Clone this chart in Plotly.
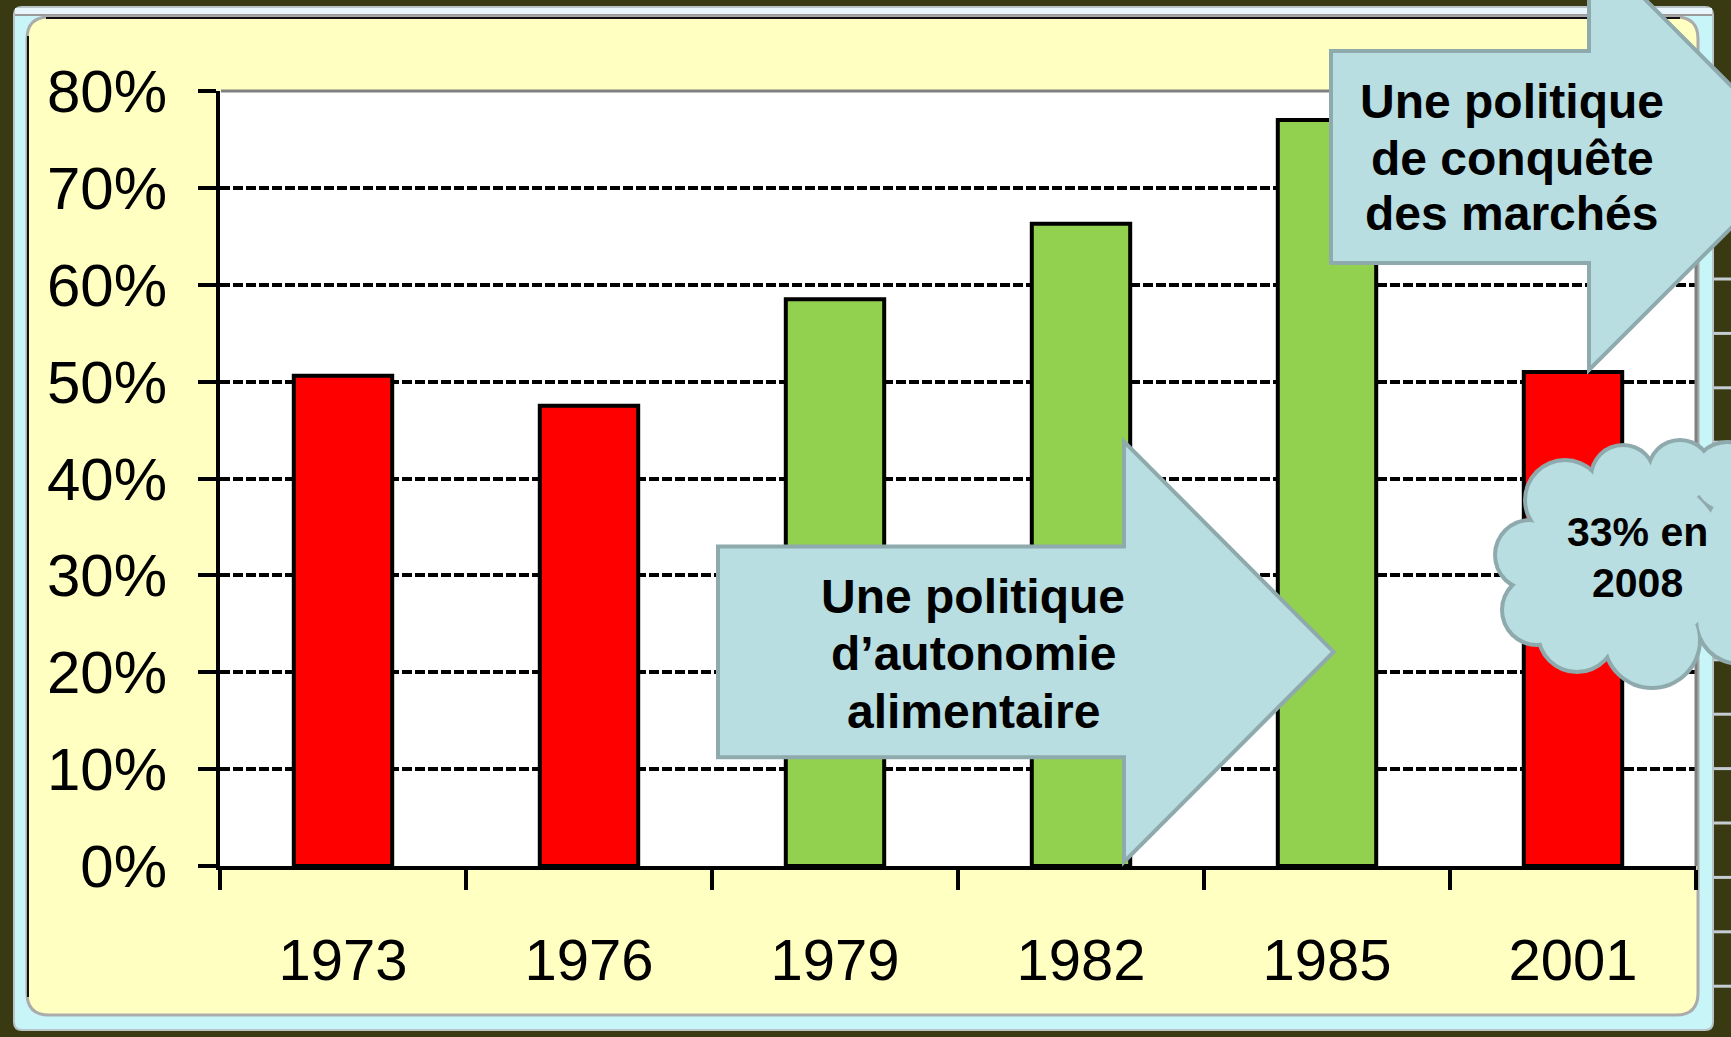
import plotly.graph_objects as go

# ---------------- data ----------------
years = ["1973", "1976", "1979", "1982", "1985", "2001"]
shares = [0.506, 0.475, 0.585, 0.663, 0.770, 0.510]
bar_colors = ["#FF0000", "#FF0000", "#92D050", "#92D050", "#92D050", "#FF0000"]
y_tick_values = [0.0, 0.1, 0.2, 0.3, 0.4, 0.5, 0.6, 0.7, 0.8]
y_tick_labels = ["0%", "10%", "20%", "30%", "40%", "50%", "60%", "70%", "80%"]
arrow_low_lines = ["Une politique", "d\u2019autonomie", "alimentaire"]
arrow_up_lines = ["Une politique", "de conquête", "des marchés"]
cloud_lines = ["33% en", "2008"]

# ---------------- geometry helpers (pixel -> paper) ----------------
W, H = 1731, 1037
L, R, T, B = 220, 1696, 91, 866


def px(x):
    return (x - L) / (R - L)


def py(y):
    return (B - y) / (B - T)


def pt(x, y):
    return f"{px(x):.5f},{py(y):.5f}"


def rrect_path(x0, y0, x1, y1, r):
    return (f"M {pt(x0 + r, y0)} L {pt(x1 - r, y0)} Q {pt(x1, y0)} {pt(x1, y0 + r)} "
            f"L {pt(x1, y1 - r)} Q {pt(x1, y1)} {pt(x1 - r, y1)} "
            f"L {pt(x0 + r, y1)} Q {pt(x0, y1)} {pt(x0, y1 - r)} "
            f"L {pt(x0, y0 + r)} Q {pt(x0, y0)} {pt(x0 + r, y0)} Z")


def arrow_path(bx0, by0, by1, hx, hy0, hy1, tipx):
    tipy = (by0 + by1) / 2
    return (f"M {pt(bx0, by0)} L {pt(hx, by0)} L {pt(hx, hy0)} L {pt(tipx, tipy)} "
            f"L {pt(hx, hy1)} L {pt(hx, by1)} L {pt(bx0, by1)} Z")


def circle(cx, cy, r, color, layer="above"):
    return dict(type="circle", xref="paper", yref="paper",
                x0=px(cx - r), x1=px(cx + r), y0=py(cy + r), y1=py(cy - r),
                fillcolor=color, line=dict(width=0), layer=layer)


ARROW_FILL = "#B8DEE2"
ARROW_LINE = "#8EAAAC"
FONT = "Liberation Sans, Arial, sans-serif"

shapes = []
# cyan frame
shapes.append(dict(type="path", xref="paper", yref="paper", path=rrect_path(14, 7, 1713, 1030, 8),
                   fillcolor="#C8F6F8", line=dict(color="#B8C4C8", width=2), layer="below"))
shapes.append(dict(type="rect", xref="paper", yref="paper", x0=px(15), x1=px(1712), y0=py(8), y1=py(14),
                   fillcolor="#E8F6FC", line=dict(width=0), layer="below"))
shapes.append(dict(type="line", xref="paper", yref="paper", x0=px(15), x1=px(1712), y0=py(15), y1=py(15),
                   line=dict(color="#9A9A9A", width=2), layer="below"))
# right-side grey strips outside the frame
yy = 279.0
while yy < 1030:
    shapes.append(dict(type="line", xref="paper", yref="paper", x0=px(1714), x1=px(1731), y0=py(yy), y1=py(yy),
                       line=dict(color="#C4CCD4", width=3), layer="below"))
    yy += 54.4
# yellow rounded panel
shapes.append(dict(type="path", xref="paper", yref="paper", path=rrect_path(27, 17, 1698, 1015, 22),
                   fillcolor="#FFFFC2", line=dict(color="#ABABAB", width=3), layer="below"))
shapes.append(dict(type="line", xref="paper", yref="paper", x0=px(46), x1=px(1680), y0=py(18), y1=py(18),
                   line=dict(color="#111111", width=2), layer="below"))
shapes.append(dict(type="line", xref="paper", yref="paper", x0=px(28), x1=px(28), y0=py(36), y1=py(997),
                   line=dict(color="#111111", width=2), layer="below"))
# white plotting area
shapes.append(dict(type="rect", xref="paper", yref="paper", x0=0, x1=1, y0=0, y1=1,
                   fillcolor="#FFFFFF", line=dict(width=0), layer="below"))
# grey top / right border of the plotting area
shapes.append(dict(type="line", xref="paper", yref="paper", x0=px(221), x1=1, y0=1, y1=1,
                   line=dict(color="#808080", width=3), layer="above"))
shapes.append(dict(type="line", xref="paper", yref="paper", x0=1, x1=1, y0=0, y1=1,
                   line=dict(color="#808080", width=3), layer="above"))

# arrows
shapes.append(dict(type="path", xref="paper", yref="paper",
                   path=arrow_path(718, 546.5, 757.3, 1124, 441.6, 862, 1333.6),
                   fillcolor=ARROW_FILL, line=dict(color=ARROW_LINE, width=4), layer="above"))
shapes.append(dict(type="path", xref="paper", yref="paper",
                   path=arrow_path(1331, 51, 263, 1589, -57, 370, 1802),
                   fillcolor=ARROW_FILL, line=dict(color=ARROW_LINE, width=4), layer="above"))

# cloud: outline circles first, fill circles on top
cloud = [(1565, 500, 38), (1623, 477, 30), (1680, 472, 30), (1727, 477, 33), (1530, 555, 33),
         (1537, 610, 33), (1577, 633, 37), (1652, 640, 46), (1740, 620, 42), (1775, 545, 72),
         (1640, 560, 85), (1575, 575, 32)]
for cx, cy, r in cloud:
    shapes.append(circle(cx, cy, r + 4, ARROW_LINE))
for cx, cy, r in cloud:
    shapes.append(circle(cx, cy, r, ARROW_FILL))

# ---------------- annotations ----------------
annotations = []
for line, yc in zip(arrow_low_lines, [596, 653.5, 711]):
    annotations.append(dict(text=line, x=px(973), y=py(yc), xref="paper", yref="paper",
                            xanchor="center", yanchor="middle", showarrow=False,
                            font=dict(family=FONT, size=48, color="#000000", weight="bold")))
for line, yc in zip(arrow_up_lines, [101, 158, 213]):
    annotations.append(dict(text=line, x=px(1512), y=py(yc), xref="paper", yref="paper",
                            xanchor="center", yanchor="middle", showarrow=False,
                            font=dict(family=FONT, size=48, color="#000000", weight="bold")))
for line, yc in zip(cloud_lines, [532, 583]):
    annotations.append(dict(text=line, x=px(1637), y=py(yc), xref="paper", yref="paper",
                            xanchor="center", yanchor="middle", showarrow=False,
                            font=dict(family=FONT, size=41, color="#000000", weight="bold")))

# ---------------- figure ----------------
fig = go.Figure()
fig.add_trace(go.Bar(x=years, y=shares, marker=dict(color=bar_colors, line=dict(color="#000000", width=4)),
                     hoverinfo="skip"))

fig.update_layout(
    width=W, height=H,
    margin=dict(l=L, r=W - R, t=T, b=H - B, pad=0),
    paper_bgcolor="#3A3A12",
    plot_bgcolor="#FFFFFF",
    bargap=0.6,
    showlegend=False,
    shapes=shapes,
    annotations=annotations,
    hovermode=False,
)
fig.update_xaxes(
    type="category", range=[-0.5, 5.5], showline=True, linecolor="#000000", linewidth=4,
    ticks="outside", tickson="boundaries", ticklen=20, tickwidth=4, tickcolor="#000000",
    showgrid=False, zeroline=False,
    tickfont=dict(family=FONT, size=58, color="#000000"), ticklabelstandoff=40,
)
fig.update_yaxes(
    range=[0, 0.8], tickvals=y_tick_values, ticktext=y_tick_labels,
    showline=True, linecolor="#000000", linewidth=4,
    ticks="outside", ticklen=18, tickwidth=4, tickcolor="#000000",
    showgrid=True, gridcolor="#000000", gridwidth=4, griddash="10px,3px", zeroline=False,
    tickfont=dict(family=FONT, size=60, color="#000000"), ticklabelstandoff=19,
)

fig.write_html("out.html", config={"displayModeBar": False},
               post_script="document.body.style.margin='0';document.body.style.overflow='hidden';")
